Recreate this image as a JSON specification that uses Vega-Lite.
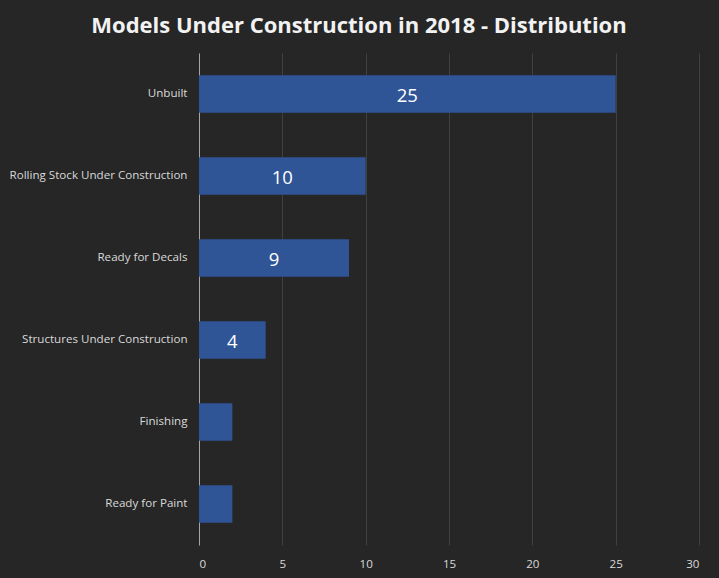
{
  "$schema": "https://vega.github.io/schema/vega-lite/v6.json",
  "autosize": "none",
  "width": 500,
  "height": 492,
  "padding": {"left": 199, "top": 53, "right": 20, "bottom": 33},
  "background": "#262626",
  "title": {
    "text": "Models Under Construction in 2018 - Distribution",
    "font": "Open Sans",
    "fontSize": 22,
    "fontWeight": "bold",
    "color": "#F2F2F2",
    "anchor": "middle",
    "dx": -90,
    "offset": 15
  },
  "config": {
    "view": {"stroke": null},
    "font": "Open Sans"
  },
  "data": {
    "values": [
      {"category": "Unbuilt", "value": 25},
      {"category": "Rolling Stock Under Construction", "value": 10},
      {"category": "Ready for Decals", "value": 9},
      {"category": "Structures Under Construction", "value": 4},
      {"category": "Finishing", "value": 2},
      {"category": "Ready for Paint", "value": 2}
    ]
  },
  "encoding": {
    "y": {
      "field": "category",
      "type": "nominal",
      "sort": null,
      "scale": {"paddingInner": 0.54, "paddingOuter": 0.27},
      "axis": {
        "title": null,
        "ticks": false,
        "domain": true,
        "domainColor": "#A6A6A6",
        "domainWidth": 1,
        "labelColor": "#D9D9D9",
        "labelFontSize": 11.6,
        "labelPadding": 12,
        "labelLimit": 250
      }
    }
  },
  "layer": [
    {
      "mark": {"type": "bar", "color": "#2F5597"},
      "encoding": {
        "x": {
          "field": "value",
          "type": "quantitative",
          "scale": {"domain": [0, 30]},
          "axis": {
            "title": null,
            "values": [0, 5, 10, 15, 20, 25, 30],
            "domain": false,
            "ticks": false,
            "grid": true,
            "gridColor": "#404040",
            "labelColor": "#D9D9D9",
            "labelFontSize": 11.6,
            "labelPadding": 13
          }
        }
      }
    },
    {
      "transform": [{"filter": "datum.value > 2"}, {"calculate": "datum.value / 2", "as": "mid"}],
      "mark": {"type": "text", "color": "#FFFFFF", "fontSize": 18.5, "baseline": "middle", "align": "center", "dy": 2},
      "encoding": {
        "x": {"field": "mid", "type": "quantitative"},
        "text": {"field": "value", "type": "quantitative"}
      }
    }
  ]
}
